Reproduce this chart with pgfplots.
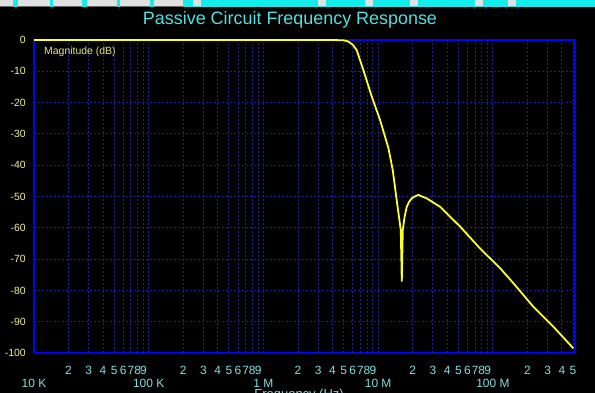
\documentclass[border=0pt]{standalone}
\usepackage{fontspec}
\setmainfont{Liberation Sans}
\usepackage{pgfplots}
\pgfplotsset{compat=1.18}
\definecolor{ttl}{RGB}{80,224,224}
\definecolor{xlab}{RGB}{130,222,222}
\definecolor{ylab}{RGB}{240,240,150}
\definecolor{mlab}{RGB}{230,230,120}
\definecolor{curve}{RGB}{255,255,40}
\definecolor{frame}{RGB}{0,0,255}
\definecolor{gridc}{RGB}{30,30,150}
\definecolor{bar}{RGB}{20,235,235}
\definecolor{btn}{RGB}{225,225,225}
\begin{document}
\begin{tikzpicture}
\useasboundingbox (0bp,0bp) rectangle (595bp,393bp);
\fill[black] (0bp,0bp) rectangle (595bp,393bp);
% toolbar strip (cropped)
\fill[bar] (0bp,386bp) rectangle (595bp,393bp);
\foreach \a/\b in {0/13,18/50,53/82,87/117,120/150,154/183}{
  \fill[btn] (\a bp,387bp) rectangle (\b bp,393bp);
  \draw[black!60,line width=0.6bp] (\a bp,387bp) -- (\b bp,387bp);
}
\foreach \a/\b in {193/201,318/326,365/373,410/418,475/483,508/516}{
  \fill[btn] (\a bp,387bp) rectangle (\b bp,393bp);
}
\node[text=ttl, font=\fontsize{18}{20}\selectfont] at (290bp,373bp) {Passive Circuit Frequency Response};
\begin{axis}[
  at={(34bp,40bp)}, anchor=south west,
  scale only axis, width=541bp, height=313bp,
  xmode=log, xmin=1e4, xmax=5.2e8,
  ymin=-100, ymax=0,
  clip=false,
  axis line style={frame, line width=2.8bp},
  major tick length=0pt, minor tick length=0pt,
  xtick={1e4,1e5,1e6,1e7,1e8},
  xticklabels={10 K,100 K,1 M,10 M,100 M},
  xticklabel style={text=xlab, font=\fontsize{12}{14}\selectfont, anchor=center, yshift=-30bp},
  extra x ticks={2e4,3e4,4e4,5e4,6e4,7e4,8e4,9e4,
                 2e5,3e5,4e5,5e5,6e5,7e5,8e5,9e5,
                 2e6,3e6,4e6,5e6,6e6,7e6,8e6,9e6,
                 2e7,3e7,4e7,5e7,6e7,7e7,8e7,9e7,
                 2e8,3e8,4e8,5e8},
  extra x tick labels={2,3,4,5,6,7,8,9,2,3,4,5,6,7,8,9,2,3,4,5,6,7,8,9,2,3,4,5,6,7,8,9,2,3,4,5},
  extra x tick style={grid=major, xticklabel style={yshift=13bp}},
  ytick={-100,-90,-80,-70,-60,-50,-40,-30,-20,-10,0},
  yticklabels={-100,-90,-80,-70,-60,-50,-40,-30,-20,-10,0},
  yticklabel style={text=ylab, font=\fontsize{10.5}{12}\selectfont, anchor=east, inner sep=0pt, xshift=-8bp},
  grid=major,
  major grid style={gridc, line width=0.9bp, dash pattern=on 2bp off 2bp},
  xlabel={Frequency (Hz)},
  xlabel style={text=xlab, font=\fontsize{13}{15}\selectfont, at={(axis description cs:0.49,0)}, anchor=north, inner sep=0pt, yshift=-36bp},
]
\addplot[curve, line width=1.8bp] coordinates {
(1e4,0) (4e6,0) (5.0e6,-0.1) (5.5e6,-0.5) (6.0e6,-1.5) (6.5e6,-3.2)
(7.43e6,-9.6) (8.8e6,-18.1) (1.04e7,-25.6) (1.23e7,-34.6) (1.34e7,-41.5)
(1.45e7,-51.1) (1.575e7,-60.7) (1.607e7,-77.2) (1.64e7,-60.7) (1.70e7,-56.5)
(1.775e7,-53.3) (1.86e7,-51.7) (1.96e7,-50.6) (2.08e7,-50.0)
(2.24e7,-49.5) (2.65e7,-50.6) (3.47e7,-53.3) (5.18e7,-59.6)
(7.73e7,-66.6) (1.156e8,-72.9) (1.51e8,-77.7) (2.25e8,-85.2) (3.37e8,-91.6)
(5.03e8,-98.5)
};
\end{axis}
\node[anchor=west, text=mlab, font=\fontsize{10.5}{12}\selectfont, inner sep=0pt] at (44bp,341bp) {Magnitude (dB)};
\end{tikzpicture}
\end{document}
